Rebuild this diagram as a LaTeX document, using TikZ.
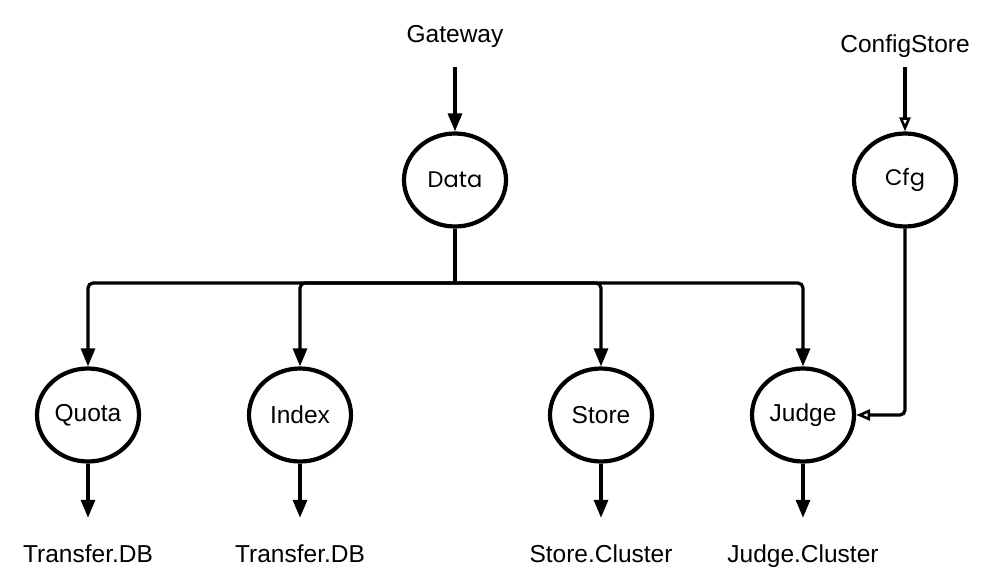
\documentclass[tikz,border=0pt]{standalone}
\usepackage{fontspec}
\setmainfont{Liberation Sans}
\newfontfamily\geofont{Poppins}
\usetikzlibrary{arrows.meta,shapes.geometric}
\begin{document}
\begin{tikzpicture}[x=1pt,y=-1pt,
  proc/.style={draw, ellipse, line width=4.2pt, minimum width=102pt, minimum height=93pt, inner sep=0pt, font=\fontsize{24.5}{27}\selectfont},
  geoproc/.style={proc, font=\geofont\fontsize{22.5}{26}\selectfont},
  lbl/.style={inner sep=0pt, text height=17pt, text depth=5pt, font=\fontsize{24.5}{27}\selectfont, anchor=base},
  arr/.style={line width=3.2pt, -{Triangle[length=18pt,width=14pt]}},
  oarr/.style={line width=3.2pt, -{Triangle[open,length=14pt,width=11pt,line width=2.6pt]}},
  bus/.style={rounded corners=5pt}
]
\useasboundingbox (0,0) rectangle (990,588);
\fill[white] (0,0) rectangle (990,588);
% top labels
\node[lbl] (gw) at (455,43) {Gateway};
\node[lbl] (cs) at (905,53) {ConfigStore};
% upper processes
\node[geoproc] (data) at (455,180) {Data};
\node[geoproc] (cfg) at (905,180) {Cfg};
% lower processes
\node[proc] (quota) at (88,415) {Quota};
\node[proc] (index) at (300,415) {Index};
\node[proc] (store) at (601,415) {Store};
\node[proc] (judge) at (803,415) {Judge};
% bottom labels
\node[lbl] (t1) at (88,562) {Transfer.DB};
\node[lbl] (t2) at (300,562) {Transfer.DB};
\node[lbl] (t3) at (601,562) {Store.Cluster};
\node[lbl] (t4) at (803,562) {Judge.Cluster};
% top arrows
\draw[arr, shorten <=19pt] (gw.south) -- (data.north);
\draw[oarr, shorten <=9pt] (cs.south) -- (cfg.north);
% bus
\coordinate (jn) at (455,283);
\draw[line width=3.2pt] (data.south) -- (jn);
\draw[arr, bus] (jn) -| (quota.north);
\draw[arr, bus] (jn) -| (index.north);
\draw[arr, bus] (jn) -| (store.north);
\draw[arr, bus] (jn) -| (judge.north);
% config to judge
\draw[oarr, bus] (cfg.south) |- (judge.east);
% bottom arrows
\draw[arr, shorten >=27pt] (quota.south) -- (t1.north);
\draw[arr, shorten >=27pt] (index.south) -- (t2.north);
\draw[arr, shorten >=27pt] (store.south) -- (t3.north);
\draw[arr, shorten >=27pt] (judge.south) -- (t4.north);
\end{tikzpicture}
\end{document}
